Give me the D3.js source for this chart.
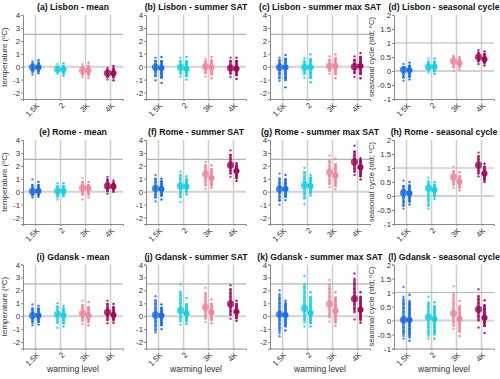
<!DOCTYPE html>
<html>
<head>
<meta charset="utf-8">
<script src="https://cdn.jsdelivr.net/npm/d3@7"></script>
<style>
body { margin: 0; background: #fff; }
svg { font-family: "Liberation Sans", Arial, sans-serif; }
</style>
</head>
<body>
<script>
var width = 500;
var height = 379;

var titles = [
    '(a) Lisbon - mean', '(b) Lisbon - summer SAT', '(c) Lisbon - summer max SAT', '(d) Lisbon - seasonal cycle',
    '(e) Rome - mean', '(f) Rome - summer SAT', '(g) Rome - summer max SAT', '(h) Rome - seasonal cycle',
    '(i) Gdansk - mean', '(j) Gdansk - summer SAT', '(k) Gdansk - summer max SAT', '(l) Gdansk - seasonal cycle'
];
var categories = ['1.5K', '2', '3K', '4K'];
var colors = ['#1a6fe6', '#14d2e4', '#f0889c', '#a00a5a'];
var tempTicks = [-2, -1, 0, 1, 2, 3, 4];
var cycleTicks = [-1, -0.5, 0, 0.5, 1, 1.5, 2];

// medians per panel: [1.5K left, 1.5K right, 2 left, 2 right, 3K left, 3K right, 4K left, 4K right]
var medians = [
    [-0.05, -0.05, -0.2, -0.2, -0.3, -0.3, -0.5, -0.5],
    [-0.05, -0.1, -0.05, -0.15, 0, -0.05, -0.1, -0.15],
    [-0.05, -0.05, -0.05, -0.05, 0.05, 0.05, 0, 0.05],
    [0.05, 0.03, 0.15, 0.15, 0.35, 0.28, 0.5, 0.42],
    [0.02, 0.05, 0.05, 0.05, 0.3, 0.25, 0.45, 0.4],
    [0.25, 0.2, 0.45, 0.4, 1.35, 1.05, 2.05, 1.6],
    [0.2, 0.2, 0.5, 0.45, 1.5, 1.25, 2.3, 1.9],
    [0.12, 0.1, 0.28, 0.22, 0.68, 0.52, 1.1, 0.8],
    [0.05, 0.05, 0.15, 0.05, 0.2, 0.05, 0.3, 0.1],
    [0.1, 0.05, 0.45, 0.2, 0.7, 0.3, 0.95, 0.35],
    [0.15, 0.1, 0.6, 0.25, 0.95, 0.4, 1.35, 0.5],
    [0.03, 0.02, 0.12, 0.05, 0.25, 0.05, 0.4, 0.1]
];

// individual members per panel, same order as medians
var lisbonMean = [
    [-0.6, -0.4, -0.25, -0.1, 0, 0.1, 0.25, 0.4],
    [-0.5, -0.35, -0.2, -0.1, 0, 0.1, 0.3, 0.5],
    [-0.55, -0.4, -0.3, -0.2, -0.1, 0, 0.2],
    [-0.7, -0.5, -0.35, -0.2, -0.1, 0.05, 0.25],
    [-0.8, -0.6, -0.45, -0.3, -0.2, 0, 0.2],
    [-0.85, -0.6, -0.4, -0.3, -0.15, 0.05, 0.3],
    [-1.0, -0.8, -0.65, -0.5, -0.4, -0.25, -0.1],
    [-1.05, -0.8, -0.6, -0.5, -0.35, -0.15, 0.05]
];
var lisbonSummer = [
    [-1.05, -0.7, -0.4, -0.2, 0, 0.2, 0.45, 0.7],
    [-1.25, -0.8, -0.5, -0.25, -0.1, 0.1, 0.4, 0.75],
    [-0.75, -0.5, -0.25, -0.05, 0.15, 0.4, 0.7],
    [-1.0, -0.7, -0.4, -0.15, 0.05, 0.35, 0.75],
    [-0.75, -0.45, -0.2, 0, 0.2, 0.4, 0.6],
    [-0.9, -0.55, -0.3, -0.05, 0.2, 0.45, 0.75],
    [-0.8, -0.5, -0.3, -0.1, 0.1, 0.4, 0.7],
    [-0.95, -0.6, -0.35, -0.15, 0.1, 0.4, 0.7]
];
var lisbonMax = [
    [-1.1, -0.9, -0.5, -0.2, 0, 0.25, 0.5, 0.7],
    [-1.6, -0.9, -0.5, -0.2, 0, 0.3, 0.6, 0.9],
    [-0.85, -0.5, -0.25, -0.05, 0.15, 0.4, 0.65],
    [-1.2, -0.8, -0.45, -0.1, 0.15, 0.5, 0.95],
    [-0.55, -0.3, -0.1, 0.05, 0.25, 0.5, 0.8],
    [-0.9, -0.5, -0.2, 0.05, 0.3, 0.6, 0.95],
    [-0.8, -0.45, -0.2, 0, 0.2, 0.5, 0.8],
    [-0.9, -0.5, -0.2, 0.05, 0.35, 0.7, 1.05]
];
var lisbonCycle = [
    [-0.35, -0.22, -0.1, 0, 0.05, 0.12, 0.25],
    [-0.3, -0.2, -0.08, 0.03, 0.1, 0.18, 0.3],
    [-0.05, 0.05, 0.1, 0.15, 0.22, 0.32, 0.45],
    [-0.1, 0, 0.08, 0.15, 0.22, 0.32, 0.45],
    [0, 0.15, 0.25, 0.35, 0.42, 0.5, 0.55],
    [0.05, 0.15, 0.22, 0.28, 0.35, 0.42, 0.5],
    [0.25, 0.35, 0.42, 0.5, 0.55, 0.65, 0.75],
    [0.2, 0.3, 0.38, 0.42, 0.5, 0.6, 0.7]
];
var romeMean = [
    [-0.45, -0.3, -0.15, 0, 0.1, 0.25, 0.45, 0.95],
    [-0.4, -0.25, -0.1, 0.05, 0.15, 0.3, 0.5, 0.75],
    [-0.6, -0.35, -0.15, 0.05, 0.2, 0.4, 0.65],
    [-0.35, -0.2, -0.05, 0.05, 0.2, 0.4, 0.65],
    [-0.6, -0.2, 0, 0.2, 0.35, 0.5, 0.75, 1.05],
    [-0.45, -0.2, 0, 0.15, 0.3, 0.5, 0.75],
    [-0.15, 0.05, 0.25, 0.4, 0.55, 0.75, 0.95, 1.15],
    [0, 0.15, 0.3, 0.4, 0.5, 0.65, 0.85]
];
var romeSummer = [
    [-0.75, -0.45, -0.2, 0.05, 0.25, 0.45, 0.75, 1.0, 1.3],
    [-0.6, -0.3, -0.05, 0.2, 0.35, 0.55, 0.8, 1.0],
    [-0.8, -0.4, -0.1, 0.2, 0.45, 0.7, 1.0, 1.3, 1.55],
    [-0.2, 0, 0.2, 0.4, 0.55, 0.75, 0.95, 1.2],
    [0.2, 0.5, 0.8, 1.05, 1.35, 1.6, 1.85, 2.05, 2.3],
    [0.3, 0.5, 0.7, 0.9, 1.05, 1.25, 1.5, 1.75, 2.05],
    [1.15, 1.4, 1.65, 1.85, 2.05, 2.3, 2.55, 2.85, 3.2],
    [0.85, 1.05, 1.25, 1.45, 1.6, 1.75, 1.9, 2.05, 2.2]
];
var romeMax = [
    [-1.0, -0.7, -0.4, -0.1, 0.2, 0.45, 0.7, 1.0, 1.4],
    [-0.65, -0.4, -0.15, 0.05, 0.2, 0.4, 0.65, 0.95, 1.3],
    [-0.95, -0.5, -0.15, 0.2, 0.5, 0.8, 1.1, 1.5, 1.85],
    [-0.3, -0.1, 0.1, 0.3, 0.45, 0.65, 0.9, 1.1, 1.3],
    [0.35, 0.6, 0.9, 1.2, 1.5, 1.75, 2.0, 2.35, 2.8],
    [0.2, 0.45, 0.7, 1.0, 1.25, 1.5, 1.8, 2.1, 2.55],
    [1.3, 1.55, 1.8, 2.05, 2.3, 2.55, 2.8, 3.1, 3.55],
    [0.95, 1.2, 1.45, 1.7, 1.9, 2.1, 2.3, 2.45, 2.6]
];
var romeCycle = [
    [-0.45, -0.35, -0.2, -0.05, 0.05, 0.12, 0.22, 0.35, 0.55],
    [-0.3, -0.2, -0.05, 0.05, 0.1, 0.18, 0.28, 0.38, 0.5],
    [-0.45, -0.35, -0.1, 0.05, 0.2, 0.28, 0.4, 0.52, 0.65],
    [-0.1, 0, 0.08, 0.15, 0.22, 0.3, 0.4, 0.5],
    [0.3, 0.4, 0.5, 0.6, 0.68, 0.78, 0.88, 1.05],
    [0.2, 0.3, 0.38, 0.45, 0.52, 0.6, 0.7, 0.85],
    [0.7, 0.8, 0.9, 1.0, 1.1, 1.2, 1.3, 1.42, 1.55],
    [0.5, 0.58, 0.65, 0.72, 0.8, 0.88, 0.95, 1.05, 1.15]
];
var gdanskMean = [
    [-0.7, -0.5, -0.3, -0.1, 0.05, 0.2, 0.4, 0.6, 0.9],
    [-0.65, -0.45, -0.25, -0.05, 0.05, 0.2, 0.4, 0.6, 0.8],
    [-0.9, -0.5, -0.3, -0.05, 0.15, 0.35, 0.55, 0.75, 1.0],
    [-0.8, -0.55, -0.3, -0.1, 0.05, 0.2, 0.4, 0.6, 0.8],
    [-0.6, -0.35, -0.15, 0.05, 0.2, 0.4, 0.6, 0.85, 1.2],
    [-0.7, -0.45, -0.2, -0.05, 0.05, 0.25, 0.45, 0.7, 1.1],
    [-0.55, -0.3, -0.05, 0.15, 0.3, 0.5, 0.7, 0.95, 1.2],
    [-0.5, -0.3, -0.1, 0.05, 0.1, 0.3, 0.5, 0.7, 0.95]
];
var gdanskSummer = [
    [-1.25, -1.1, -0.7, -0.4, -0.1, 0.1, 0.35, 0.6, 0.95, 1.25, 1.55],
    [-1.0, -0.7, -0.45, -0.2, 0.05, 0.2, 0.4, 0.65, 0.9],
    [-0.65, -0.4, -0.1, 0.2, 0.45, 0.7, 1.0, 1.3, 1.6, 1.9, 2.45],
    [-0.6, -0.4, -0.15, 0.05, 0.2, 0.4, 0.65, 0.9, 1.4],
    [-0.45, -0.2, 0.1, 0.4, 0.7, 0.95, 1.2, 1.5, 1.8, 2.2],
    [-0.55, -0.3, -0.1, 0.1, 0.3, 0.5, 0.7, 0.95, 1.3],
    [-0.2, 0.1, 0.4, 0.7, 0.95, 1.2, 1.5, 1.8, 2.1, 2.4],
    [-0.35, -0.15, 0.05, 0.2, 0.35, 0.55, 0.75, 0.95, 1.2]
];
var gdanskMax = [
    [-1.55, -1.3, -0.9, -0.6, -0.3, 0, 0.15, 0.4, 0.7, 1.0, 1.35, 1.7, 2.0],
    [-1.1, -0.8, -0.5, -0.25, 0, 0.1, 0.3, 0.55, 0.8, 1.0, 1.2],
    [-0.8, -0.5, -0.2, 0.1, 0.35, 0.6, 0.9, 1.2, 1.5, 1.85, 2.2, 2.5, 3.1],
    [-0.8, -0.55, -0.3, -0.05, 0.25, 0.45, 0.7, 0.95, 1.2, 1.5, 1.85],
    [-0.4, -0.1, 0.2, 0.5, 0.75, 0.95, 1.2, 1.5, 1.8, 2.1, 2.5, 2.8],
    [-0.75, -0.5, -0.25, 0, 0.2, 0.4, 0.65, 0.9, 1.15, 1.45, 1.85],
    [-0.25, 0.3, 0.6, 0.9, 1.15, 1.35, 1.6, 1.85, 2.1, 2.5, 2.9, 3.3],
    [-0.5, -0.3, -0.1, 0.15, 0.35, 0.5, 0.7, 0.95, 1.2, 1.5, 1.85]
];
var gdanskCycle = [
    [-0.65, -0.55, -0.4, -0.25, -0.1, 0, 0.05, 0.15, 0.3, 0.45, 0.6, 0.85, 1.2],
    [-0.72, -0.6, -0.45, -0.3, -0.15, -0.05, 0.02, 0.12, 0.25, 0.4, 0.55, 0.7, 0.92],
    [-0.65, -0.55, -0.4, -0.25, -0.1, 0.05, 0.12, 0.22, 0.35, 0.5, 0.65, 0.85],
    [-0.65, -0.5, -0.35, -0.2, -0.05, 0.05, 0.15, 0.28, 0.4, 0.52, 0.65],
    [-0.3, -0.2, -0.05, 0.1, 0.2, 0.25, 0.35, 0.45, 0.6, 0.95, 1.22],
    [-0.55, -0.4, -0.25, -0.1, 0, 0.05, 0.15, 0.28, 0.4, 0.52, 0.7],
    [-0.25, 0, 0.15, 0.28, 0.35, 0.4, 0.5, 0.62, 0.75, 0.88, 1.12],
    [-0.45, -0.2, -0.05, 0.05, 0.1, 0.18, 0.28, 0.4, 0.55, 0.72]
];
var members = [lisbonMean, lisbonSummer, lisbonMax, lisbonCycle,
               romeMean, romeSummer, romeMax, romeCycle,
               gdanskMean, gdanskSummer, gdanskMax, gdanskCycle];

var colLeft = [23, 146, 270, 394];
var rowTop = [15, 140, 264.5];
var panelW = 100;
var panelH = 84;

var svg = d3.select('body').append('svg')
    .attr('width', width)
    .attr('height', height);

titles.forEach(function(title, i) {
    drawPanel(i, colLeft[i % 4], rowTop[Math.floor(i / 4)]);
});

function drawPanel(i, left, top) {
    var isCycle = (i % 4 == 3);
    var row = Math.floor(i / 4);
    var g = svg.append('g').attr('transform', 'translate(' + left + ',' + top + ')');

    var x = d3.scaleLinear().domain([0.5, 4.5]).range([0, panelW]);
    var y = d3.scaleLinear()
        .domain(isCycle ? [-1, 2] : [-2.5, 4])
        .range([panelH, 0]);

    // grid
    g.selectAll('.vgrid').data(categories).enter().append('line')
        .attr('x1', function(d, k) { return x(k + 1); })
        .attr('x2', function(d, k) { return x(k + 1); })
        .attr('y1', 0).attr('y2', panelH)
        .attr('stroke', '#cfcfcf').attr('stroke-width', 1.6);
    g.append('line')
        .attr('x1', 0).attr('x2', panelW)
        .attr('y1', y(0)).attr('y2', y(0))
        .attr('stroke', '#d2d2d2').attr('stroke-width', 2);
    g.append('line')
        .attr('x1', 0).attr('x2', panelW)
        .attr('y1', y(isCycle ? 1 : 2.5)).attr('y2', y(isCycle ? 1 : 2.5))
        .attr('stroke', '#b4b4b4').attr('stroke-width', 1.2);

    // axes
    var yAxis = d3.axisLeft(y)
        .tickValues(isCycle ? cycleTicks : tempTicks)
        .tickSize(2)
        .tickFormat(function(d) { return String(d); });
    var ya = g.append('g').call(yAxis);
    var xa = g.append('g').attr('transform', 'translate(0,' + panelH + ')')
        .call(d3.axisBottom(x).tickValues([1, 2, 3, 4]).tickSize(2)
            .tickFormat(function(d) { return categories[d - 1]; }));
    [ya, xa].forEach(function(a) {
        a.select('.domain').attr('stroke', '#8a8a8a');
        a.selectAll('.tick line').attr('stroke', '#8a8a8a');
        a.selectAll('text').attr('fill', '#333').style('font-size', '7.8px');
    });
    ya.selectAll('text').attr('x', -3);
    xa.selectAll('text')
        .attr('text-anchor', 'end')
        .attr('dy', 0)
        .attr('y', 0)
        .attr('transform', 'translate(4,7) rotate(-45)');

    // groups of members
    var offsets = [-3, 3];
    members[i].forEach(function(vals, j) {
        var cat = Math.floor(j / 2);
        var side = j % 2;
        var cx = x(cat + 1) + offsets[side];
        var sorted = vals.slice().sort(d3.ascending);
        var col = colors[cat];
        var op = side == 0 ? 0.8 : 1;

        g.append('line')
            .attr('x1', cx).attr('x2', cx)
            .attr('y1', y(d3.quantile(sorted, 0.1)))
            .attr('y2', y(d3.quantile(sorted, 0.9)))
            .attr('stroke', col).attr('stroke-width', 2.6)
            .attr('opacity', op);
        g.selectAll(null).data(vals).enter().append('circle')
            .attr('cx', cx)
            .attr('cy', function(d) { return y(d); })
            .attr('r', 1.2)
            .attr('fill', col)
            .attr('opacity', op);
        g.append('circle')
            .attr('cx', cx)
            .attr('cy', y(medians[i][j]))
            .attr('r', side == 0 ? 3.6 : 3)
            .attr('fill', col)
            .attr('opacity', op);
    });

    // title
    svg.append('text')
        .attr('x', left + panelW / 2)
        .attr('y', top - 5)
        .attr('text-anchor', 'middle')
        .style('font-size', '8.7px')
        .style('font-weight', 'bold')
        .attr('fill', '#111')
        .text(titles[i]);

    // y label on first and last column
    if (i % 4 == 0 || isCycle) {
        var lab = svg.append('text')
            .attr('transform', 'translate(' + (left - (isCycle ? 20 : 16)) + ',' + (top + panelH / 2) + ') rotate(-90)')
            .attr('text-anchor', 'middle')
            .style('font-size', isCycle ? '7.6px' : '8px')
            .attr('fill', '#333');
        lab.append('tspan').text(isCycle ? 'seasonal cycle (std; ' : 'temperature (');
        lab.append('tspan').attr('dy', -2.5).style('font-size', '5.5px').text('o');
        lab.append('tspan').attr('dy', 2.5).text('C)');
    }

    if (row == 2) {
        svg.append('text')
            .attr('x', left + panelW / 2)
            .attr('y', top + panelH + 23)
            .attr('text-anchor', 'middle')
            .style('font-size', '8.5px')
            .attr('fill', '#333')
            .text('warming level');
    }
}
</script>
</body>
</html>
